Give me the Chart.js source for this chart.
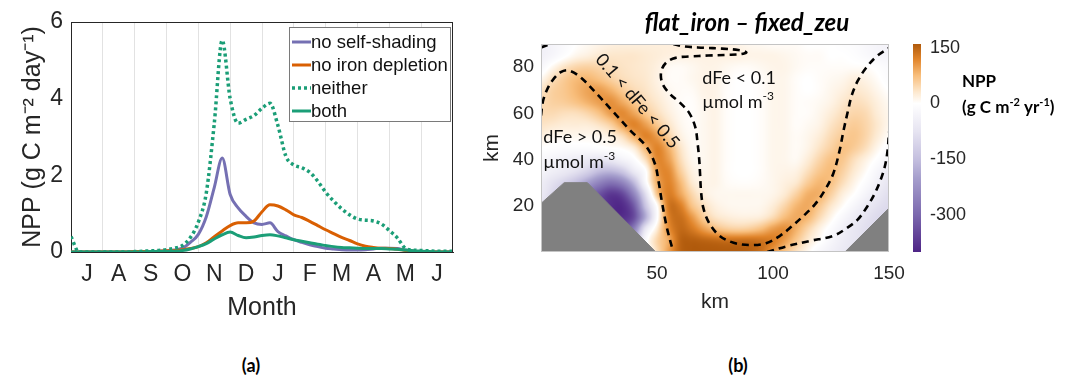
<!DOCTYPE html>
<html>
<head>
<meta charset="utf-8">
<script src="https://cdn.jsdelivr.net/npm/chart.js@4.4.1/dist/chart.umd.min.js"></script>
<style>
  html, body { margin: 0; padding: 0; background: #fff; }
  #wrap { position: relative; width: 1077px; height: 385px; overflow: hidden; background: #fff; }
  canvas { position: absolute; top: 0; }
  #cvA { left: 0; }
  #cvB { left: 470px; }
  #cvC { left: 905px; }
  .tag { position: absolute; top: 354px; font: bold 18px Lato, sans-serif; color: #000; transform: translateX(-50%); }
</style>
</head>
<body>
<div id="wrap">
  <canvas id="cvA" width="470" height="330"></canvas>
  <canvas id="cvB" width="554" height="330"></canvas>
  <canvas id="cvC" width="172" height="330"></canvas>
  <div class="tag" style="left:251px">(a)</div>
  <div class="tag" style="left:738px">(b)</div>
</div>
<script>
// ---------- panel (a): daily NPP through the year ----------
const monthPos = [0,0.25,0.5,0.75,1,1.25,1.5,1.75,2,2.25,2.5,2.75,3,3.25,3.5,3.75,4,4.25,4.5,4.75,5,5.25,5.5,5.75,6,6.25,6.5,6.75,7,7.25,7.5,7.75,8,8.25,8.5,8.75,9,9.25,9.5,9.75,10,10.25,10.5,10.75,11,11.25,11.5,11.75,12];
const monthNames = ['J','A','S','O','N','D','J','F','M','A','M','J'];

const noSelfShading   = [0,0,0,0,0,0,0,0,0.01,0.01,0.01,0.02,0.03,0.05,0.1,0.25,0.46,0.92,1.68,2.45,1.5,1.15,0.93,0.76,0.72,0.76,0.53,0.42,0.32,0.25,0.19,0.14,0.1,0.08,0.06,0.05,0.05,0.06,0.08,0.1,0.1,0.09,0.05,0.02,0.01,0,0,0,0];
const noIronDepletion = [0,0,0,0,0,0,0,0,0.01,0.01,0.01,0.02,0.03,0.04,0.06,0.09,0.14,0.24,0.4,0.55,0.69,0.76,0.76,0.81,1.05,1.23,1.2,1.1,0.97,0.9,0.8,0.69,0.58,0.48,0.38,0.3,0.21,0.15,0.12,0.1,0.09,0.07,0.04,0.02,0.01,0,0,0,0];
const neither         = [0.4,0,0,0,0,0,0,0,0.01,0.02,0.03,0.04,0.06,0.1,0.17,0.38,0.78,1.54,3.35,5.52,4.0,3.36,3.46,3.56,3.75,3.88,3.3,2.5,2.27,2.2,2.08,1.85,1.56,1.33,1.13,0.97,0.86,0.83,0.81,0.73,0.56,0.37,0.1,0.05,0.04,0.03,0.02,0.02,0.02];
const both            = [0,0,0,0,0,0,0,0,0,0,0.01,0.01,0.01,0.02,0.04,0.08,0.14,0.22,0.34,0.45,0.52,0.43,0.37,0.39,0.43,0.45,0.42,0.37,0.32,0.28,0.24,0.2,0.17,0.14,0.12,0.11,0.1,0.09,0.09,0.09,0.08,0.07,0.05,0.03,0.02,0.01,0,0,0];

// ---------- panel (b): NPP difference, flat_iron minus fixed_zeu ----------
const kmX = [0,5,10,15,20,25,30,35,40,45,50,55,60,65,70,75,80,85,90,95,100,105,110,115,120,125,130,135,140,145,150];
const kmY = [90,85,80,75,70,65,60,55,50,45,40,35,30,25,20,15,10,5,0];
// rows follow kmY (top to bottom), columns follow kmX
const nppDiff = [
  [-40,-30,-15,0,8,15,20,22,22,22,22,22,22, 22,22,20,18,15,10,8,5,5,5,0,0,0,-5,-10,-20,-30,-35],
  [-40,-25,-5,12,20,28,32,32,32,28,24,20,18, 18,18,18,18,18,15,15,15,12,8,5,5,0,0,-5,-15,-25,-30],
  [-20,10,35,50,55,50,42,36,32,28,20,8,6, 10,15,15,10,6,6,10,14,14,8,4,4,4,4,4,3,-5,-15],
  [10,40,60,75,80,70,55,42,35,30,18,6,5, 10,15,15,6,0,0,4,12,12,4,0,4,8,12,20,15,4,-10],
  [35,55,65,80,95,100,85,62,45,35,22,10,5, 6,15,15,4,0,0,4,12,12,4,0,4,12,20,30,25,12,0],
  [45,55,60,70,85,100,110,90,65,45,30,15,5, 3,12,15,4,0,0,4,12,12,4,4,8,16,30,40,35,20,8],
  [45,45,40,40,50,70,100,115,95,65,42,22,8, 3,10,15,4,0,0,4,12,12,4,4,12,25,40,50,45,25,12],
  [35,30,25,25,25,35,55,95,120,100,65,35,12, 4,10,15,4,0,0,4,12,12,4,8,16,35,50,60,50,30,12],
  [20,10,10,10,10,10,20,40,85,120,100,55,20, 6,10,15,4,0,0,4,12,12,6,12,25,45,60,65,50,25,5],
  [0,-5,-10,-10,-10,-5,0,5,25,80,120,85,35, 8,10,15,4,0,0,4,12,12,6,15,35,55,70,60,40,12,-10],
  [-20,-30,-40,-50,-60,-70,-60,-35,-10,40,115,100,45, 12,10,15,4,0,0,4,12,12,8,25,50,70,65,40,18,-5,-30],
  [-30,-45,-60,-80,-110,-150,-160,-130,-60,-5,100,115,60, 20,12,15,4,0,0,4,12,15,18,40,65,75,55,28,5,-25,-50],
  [-50,-80,-110,-150,-200,-250,-280,-250,-160,-20,85,120,80, 30,15,15,6,3,3,6,12,20,30,60,80,70,42,15,-10,-40,-70],
  [-60,-100,-150,-220,-280,-330,-370,-350,-250,-90,65,125,95, 50,22,12,10,10,10,10,14,28,55,85,85,55,22,0,-30,-60,-85],
  [-80,-120,-160,-220,-280,-340,-385,-390,-320,-140,0,130,125, 70,40,20,12,10,10,12,25,50,80,90,65,32,5,-25,-55,-80,-95],
  [-100,-120,-160,-220,-280,-340,-380,-385,-340,-180,-10,120,140, 105,60,35,25,20,20,25,45,75,90,80,45,12,-20,-50,-75,-95,-105],
  [-100,-100,-100,-150,-200,-260,-300,-330,-260,-70,25,110,145, 130,100,75,60,55,60,75,100,110,85,50,18,-10,-40,-65,-85,-95,-100],
  [-100,-100,-100,-100,-100,-120,-150,-180,-170,-20,50,90,150, 155,150,145,140,140,140,135,125,100,65,30,5,-25,-50,-70,-80,-80,-80],
  [-50,-50,-50,-50,-50,-50,-50,-50,-50,-20,40,100,150, 160,160,160,160,160,155,140,105,70,40,10,-20,-40,-60,-70,-70,-70,-70]
];

// topography (no data) on both flanks
const landWestX = [0,10,20,49.5];
const landWestY = [21,30,30,0];
const landEastX = [131,150];
const landEastY = [0,19];

// dissolved iron contours (0.5 and 0.1 umol m-3)
const fe05WestX = [0,0.8,2.5,5,8.5,11.8,16.8,24,31.2,38.4,45.5,49.1,50.6,52,54.2,57];
const fe05WestY = [59,65,70,74.3,77.8,78.6,75.8,68.5,60.6,52.7,45.5,38.2,31,22.4,10.8,0];
const fe05CornerX = [0,4];
const fe05CornerY = [88.5,90];
const fe01X = [57,62,70,78,85,88.5,86,80,72,64,58,54,51.8,52.3,55.5,60,64,66.5,67.5,68.2,68.6,69,70,72.5,77,83,90,97,103,108,113,118,122.5,126,128.5,130.5,132.3,134,136.5,140,144.5,150];
const fe01Y = [90,88.9,88.4,88,87.4,86.4,85.6,85.3,85,84.6,84,82,78,73,68.5,64.5,60,54,47,40,33,26,19,12.5,7,4,3,3.8,7,11,15.5,20.5,27,34,43,53,61,68,74,79.5,84.5,88.3];
const fe05EastX = [97.5,106,116,126,132,136.5,140.5,143.7,146.3,148.2,149.4,150];
const fe05EastY = [0,2.5,4.8,7,10.5,14,19.5,25,31,37,44,52];

const cbTicks = [-300,-150,0,150];
const cbMin = -400, cbMax = 160;

// diverging purple/white/orange colour map
const cmapStops = [
  [-400, [78,36,134]],
  [-300, [123,104,174]],
  [-200, [166,159,205]],
  [-150, [196,191,223]],
  [-75,  [230,228,241]],
  [0,    [255,255,255]],
  [30,   [253,233,208]],
  [75,   [248,190,124]],
  [120,  [224,132,42]],
  [160,  [176,90,12]]
];

function cmap(v) {
  if (v <= cmapStops[0][0]) return cmapStops[0][1];
  for (let k = 1; k < cmapStops.length; k++) {
    if (v <= cmapStops[k][0]) {
      const [v0, c0] = cmapStops[k - 1], [v1, c1] = cmapStops[k];
      const t = (v - v0) / (v1 - v0);
      return [0, 1, 2].map(i => c0[i] + (c1[i] - c0[i]) * t);
    }
  }
  return cmapStops[cmapStops.length - 1][1];
}

Chart.defaults.font.family = '"Liberation Sans", Arial, sans-serif';
Chart.defaults.color = '#262626';
Chart.defaults.animation = false;

const ink = '#262626';
const FONT_LABEL = 'Lato, "Liberation Sans", sans-serif';

// text with raised pieces, e.g. ['m', '-3'] -> m^-3
function drawRich(ctx, parts, x, y, size, weight) {
  let cx = x;
  ctx.textBaseline = 'middle';
  ctx.textAlign = 'left';
  parts.forEach((p, k) => {
    const sup = k % 2 === 1;
    const fs = sup ? Math.round(size * 0.66) : size;
    ctx.font = weight + ' ' + fs + 'px ' + FONT_LABEL;
    ctx.fillText(p, cx, sup ? y - size * 0.33 : y);
    cx += ctx.measureText(p).width;
  });
}

// ---------------- chart A ----------------
const toPts = (ys) => monthPos.map((m, k) => ({x: m, y: ys[k]}));

const boxPlugin = {
  id: 'boxPlugin',
  afterDatasetsDraw(chart) {
    const {ctx, chartArea: a} = chart;
    ctx.save();
    ctx.strokeStyle = ink;
    ctx.lineWidth = 1;
    ctx.beginPath();
    ctx.moveTo(a.left, Math.round(a.top) + 0.5);
    ctx.lineTo(a.right, Math.round(a.top) + 0.5);
    ctx.moveTo(Math.round(a.right) - 0.5, a.top);
    ctx.lineTo(Math.round(a.right) - 0.5, a.bottom);
    ctx.stroke();
    ctx.restore();
  }
};

const legendPlugin = {
  id: 'legendPlugin',
  afterDraw(chart) {
    const {ctx, chartArea: a} = chart;
    const w = 161, h = 94;
    const left = a.right - 3 - w, top = a.top + 5;
    ctx.save();
    ctx.fillStyle = '#fff';
    ctx.fillRect(left, top, w, h);
    ctx.strokeStyle = '#7a7a7a';
    ctx.lineWidth = 1;
    ctx.strokeRect(Math.round(left) + 0.5, Math.round(top) + 0.5, w, h);
    ctx.font = '18.5px "Liberation Sans", Arial, sans-serif';
    ctx.textBaseline = 'middle';
    ctx.fillStyle = '#111';
    chart.data.datasets.forEach((ds, k) => {
      const y = top + 15 + k * 23;
      ctx.beginPath();
      ctx.strokeStyle = ds.borderColor;
      ctx.lineWidth = ds.borderWidth;
      ctx.setLineDash(ds.borderDash || []);
      ctx.moveTo(left + 3, y);
      ctx.lineTo(left + 22, y);
      ctx.stroke();
      ctx.setLineDash([]);
      ctx.fillText(ds.label, left + 22, y + 1);
    });
    ctx.restore();
  }
};

new Chart(document.getElementById('cvA'), {
  type: 'line',
  data: {
    datasets: [
      {label: 'no self-shading', data: toPts(noSelfShading), borderColor: '#7570b3', borderWidth: 3, order: 3},
      {label: 'no iron depletion', data: toPts(noIronDepletion), borderColor: '#d95f02', borderWidth: 3, order: 2},
      {label: 'neither', data: toPts(neither), borderColor: '#1b9e77', borderWidth: 3.5, borderDash: [3, 3], borderCapStyle: 'butt', order: 1},
      {label: 'both', data: toPts(both), borderColor: '#1b9e77', borderWidth: 3, order: 0}
    ]
  },
  options: {
    responsive: false,
    devicePixelRatio: 1,
    events: [],
    layout: {padding: {left: 0, top: 22, right: 17, bottom: 6}},
    elements: {point: {radius: 0}, line: {cubicInterpolationMode: 'monotone', fill: false}},
    plugins: {legend: {display: false}, tooltip: {enabled: false}},
    scales: {
      x: {
        type: 'linear', min: 0, max: 12,
        afterBuildTicks: (s) => { s.ticks = []; for (let v = 0; v <= 12; v += 0.5) s.ticks.push({value: v}); },
        afterFit: (s) => { s.height = 72; },
        ticks: {
          autoSkip: false, maxRotation: 0, padding: 9,
          font: {size: 23}, color: ink,
          callback: (v) => (v % 1 === 0.5 ? monthNames[Math.floor(v)] : '')
        },
        grid: {
          drawTicks: false,
          color: (c) => (c.tick && c.tick.value % 1 === 0 && c.tick.value > 0 && c.tick.value < 12 ? '#e2e2e2' : 'rgba(0,0,0,0)')
        },
        border: {display: true, color: ink, width: 1},
        title: {display: true, text: 'Month', font: {size: 25}, color: ink, padding: {top: 0, bottom: 1}}
      },
      y: {
        min: 0, max: 6,
        afterBuildTicks: (s) => { s.ticks = [0, 2, 4, 6].map(v => ({value: v})); },
        afterFit: (s) => { s.width = 71; },
        ticks: {font: {size: 23}, color: ink, padding: 8},
        grid: {display: false, drawTicks: false},
        border: {display: true, color: ink, width: 1},
        title: {display: true, text: 'NPP (g C m\u207B\u00B2 day\u207B\u00B9)', font: {size: 25}, color: ink, padding: {top: 18, bottom: 0}}
      }
    }
  },
  plugins: [boxPlugin, legendPlugin]
});

// ---------------- chart B ----------------
function gridVal(i, j) {
  i = Math.max(0, Math.min(kmX.length - 1, i));
  j = Math.max(0, Math.min(kmY.length - 1, j));
  return nppDiff[j][i];
}
function catmull(p0, p1, p2, p3, t) {
  return p1 + 0.5 * t * (p2 - p0 + t * (2 * p0 - 5 * p1 + 4 * p2 - p3 + t * (3 * (p1 - p2) + p3 - p0)));
}
function fieldAt(xv, yv) {
  const fx = (xv - kmX[0]) / (kmX[1] - kmX[0]);
  const fy = (kmY[0] - yv) / (kmY[0] - kmY[1]);
  const i = Math.floor(fx), j = Math.floor(fy);
  const tx = fx - i, ty = fy - j;
  const rows = [];
  for (let r = -1; r <= 2; r++) {
    rows.push(catmull(gridVal(i - 1, j + r), gridVal(i, j + r), gridVal(i + 1, j + r), gridVal(i + 2, j + r), tx));
  }
  return catmull(rows[0], rows[1], rows[2], rows[3], ty);
}

const heatPlugin = {
  id: 'heatPlugin',
  beforeDatasetsDraw(chart) {
    const {ctx, chartArea: a, scales: {x, y}} = chart;
    const w = Math.round(a.right - a.left), h = Math.round(a.bottom - a.top);
    const off = document.createElement('canvas');
    off.width = w; off.height = h;
    const octx = off.getContext('2d');
    const img = octx.createImageData(w, h);
    for (let r = 0; r < h; r++) {
      const yv = y.getValueForPixel(a.top + r + 0.5);
      for (let c = 0; c < w; c++) {
        const xv = x.getValueForPixel(a.left + c + 0.5);
        let v = fieldAt(xv, yv);
        v = Math.max(cbMin, Math.min(cbMax, v));
        const col = cmap(v);
        const p = (r * w + c) * 4;
        img.data[p] = col[0]; img.data[p + 1] = col[1]; img.data[p + 2] = col[2]; img.data[p + 3] = 255;
      }
    }
    octx.putImageData(img, 0, 0);
    ctx.drawImage(off, a.left, a.top);
  }
};

const annotPlugin = {
  id: 'annotPlugin',
  afterDatasetsDraw(chart) {
    const {ctx, chartArea: a, scales: {x, y}} = chart;
    ctx.save();
    // frame
    ctx.strokeStyle = '#c4c4c4';
    ctx.lineWidth = 1;
    ctx.strokeRect(Math.round(a.left) + 0.5, Math.round(a.top) + 0.5, Math.round(a.right - a.left) - 1, Math.round(a.bottom - a.top) - 1);

    ctx.fillStyle = '#111';
    drawRich(ctx, ['dFe > 0.5'], x.getPixelForValue(1), y.getPixelForValue(49.5), 18, 'normal');
    drawRich(ctx, ['\u00B5mol m', '-3'], x.getPixelForValue(1), y.getPixelForValue(39), 18, 'normal');
    drawRich(ctx, ['dFe < 0.1'], x.getPixelForValue(69.5), y.getPixelForValue(75), 18, 'normal');
    drawRich(ctx, ['\u00B5mol m', '-3'], x.getPixelForValue(69.5), y.getPixelForValue(65), 18, 'normal');

    // label running along the 0.5 contour
    const x1 = x.getPixelForValue(24.7), y1 = y.getPixelForValue(85.1);
    const x2 = x.getPixelForValue(58.5), y2 = y.getPixelForValue(45.5);
    ctx.translate((x1 + x2) / 2, (y1 + y2) / 2);
    ctx.rotate(Math.atan2(y2 - y1, x2 - x1));
    ctx.font = '18px ' + FONT_LABEL;
    ctx.textAlign = 'center';
    ctx.textBaseline = 'middle';
    ctx.fillText('0.1 < dFe < 0.5', 0, 0);
    ctx.restore();

    // panel title
    ctx.save();
    ctx.fillStyle = '#000';
    ctx.font = 'italic bold 24px ' + FONT_LABEL;
    ctx.textAlign = 'center';
    ctx.textBaseline = 'alphabetic';
    ctx.fillText('flat_iron \u2013 fixed_zeu', a.left + 206, 31);
    ctx.restore();
  }
};

const pairs = (xs, ys) => xs.map((v, k) => ({x: v, y: ys[k]}));
const contourStyle = {borderColor: '#000', borderWidth: 2.6, borderDash: [7, 5], tension: 0.35, fill: false, order: 0};
const landStyle = {borderColor: '#808080', backgroundColor: '#808080', borderWidth: 1, fill: 'origin', tension: 0, order: 1};

new Chart(document.getElementById('cvB'), {
  type: 'line',
  data: {
    datasets: [
      Object.assign({label: 'land west', data: pairs(landWestX, landWestY)}, landStyle),
      Object.assign({label: 'land east', data: pairs(landEastX, landEastY)}, landStyle),
      Object.assign({label: 'dFe 0.5 west', data: pairs(fe05WestX, fe05WestY)}, contourStyle),
      Object.assign({label: 'dFe 0.5 corner', data: pairs(fe05CornerX, fe05CornerY)}, contourStyle),
      Object.assign({label: 'dFe 0.1', data: pairs(fe01X, fe01Y)}, contourStyle),
      Object.assign({label: 'dFe 0.5 east', data: pairs(fe05EastX, fe05EastY)}, contourStyle)
    ]
  },
  options: {
    responsive: false,
    devicePixelRatio: 1,
    events: [],
    layout: {padding: {left: 0, top: 44, right: 135, bottom: 8}},
    elements: {point: {radius: 0}},
    plugins: {legend: {display: false}, tooltip: {enabled: false}},
    scales: {
      x: {
        type: 'linear', min: 0, max: 150,
        afterBuildTicks: (s) => { s.ticks = [50, 100, 150].map(v => ({value: v})); },
        afterFit: (s) => { s.height = 70; },
        ticks: {font: {size: 19}, color: ink, padding: 10, maxRotation: 0, autoSkip: false},
        grid: {display: false, drawTicks: false},
        border: {display: false},
        title: {display: true, text: 'km', font: {size: 21}, color: ink, padding: {top: 0, bottom: 7}}
      },
      y: {
        type: 'linear', min: 0, max: 90,
        afterBuildTicks: (s) => { s.ticks = [20, 40, 60, 80].map(v => ({value: v})); },
        afterFit: (s) => { s.width = 71; },
        ticks: {font: {size: 19}, color: ink, padding: 7},
        grid: {display: false, drawTicks: false},
        border: {display: false},
        title: {display: true, text: 'km', font: {size: 21}, color: ink, padding: {top: 10, bottom: 0}}
      }
    }
  },
  plugins: [heatPlugin, annotPlugin]
});

// ---------------- chart C: colour bar ----------------
const colorbarPlugin = {
  id: 'colorbarPlugin',
  beforeDatasetsDraw(chart) {
    const {ctx, chartArea: a, scales: {y}} = chart;
    const g = ctx.createLinearGradient(0, y.getPixelForValue(cbMin), 0, y.getPixelForValue(cbMax));
    cmapStops.forEach(([v, c]) => {
      g.addColorStop((v - cbMin) / (cbMax - cbMin), 'rgb(' + c.map(Math.round).join(',') + ')');
    });
    ctx.save();
    ctx.fillStyle = g;
    ctx.fillRect(a.left, a.top, a.right - a.left, a.bottom - a.top);
    ctx.fillStyle = '#000';
    drawRich(ctx, ['NPP'], a.right + 41, 82, 17, 'bold');
    drawRich(ctx, ['(g C m', '-2', ' yr', '-1', ')'], a.right + 41, 108, 17, 'bold');
    ctx.restore();
  }
};

new Chart(document.getElementById('cvC'), {
  type: 'scatter',
  data: {datasets: []},
  options: {
    responsive: false,
    devicePixelRatio: 1,
    events: [],
    layout: {padding: {left: 8, top: 44, right: 0, bottom: 78}},
    plugins: {legend: {display: false}, tooltip: {enabled: false}},
    scales: {
      x: {display: false, min: 0, max: 1},
      y: {
        position: 'right', min: cbMin, max: cbMax,
        afterBuildTicks: (s) => { s.ticks = cbTicks.map(v => ({value: v})); },
        afterFit: (s) => { s.width = 156; },
        ticks: {font: {size: 18}, color: ink, padding: 9},
        grid: {display: false, drawTicks: false},
        border: {display: false}
      }
    }
  },
  plugins: [colorbarPlugin]
});
</script>
</body>
</html>
